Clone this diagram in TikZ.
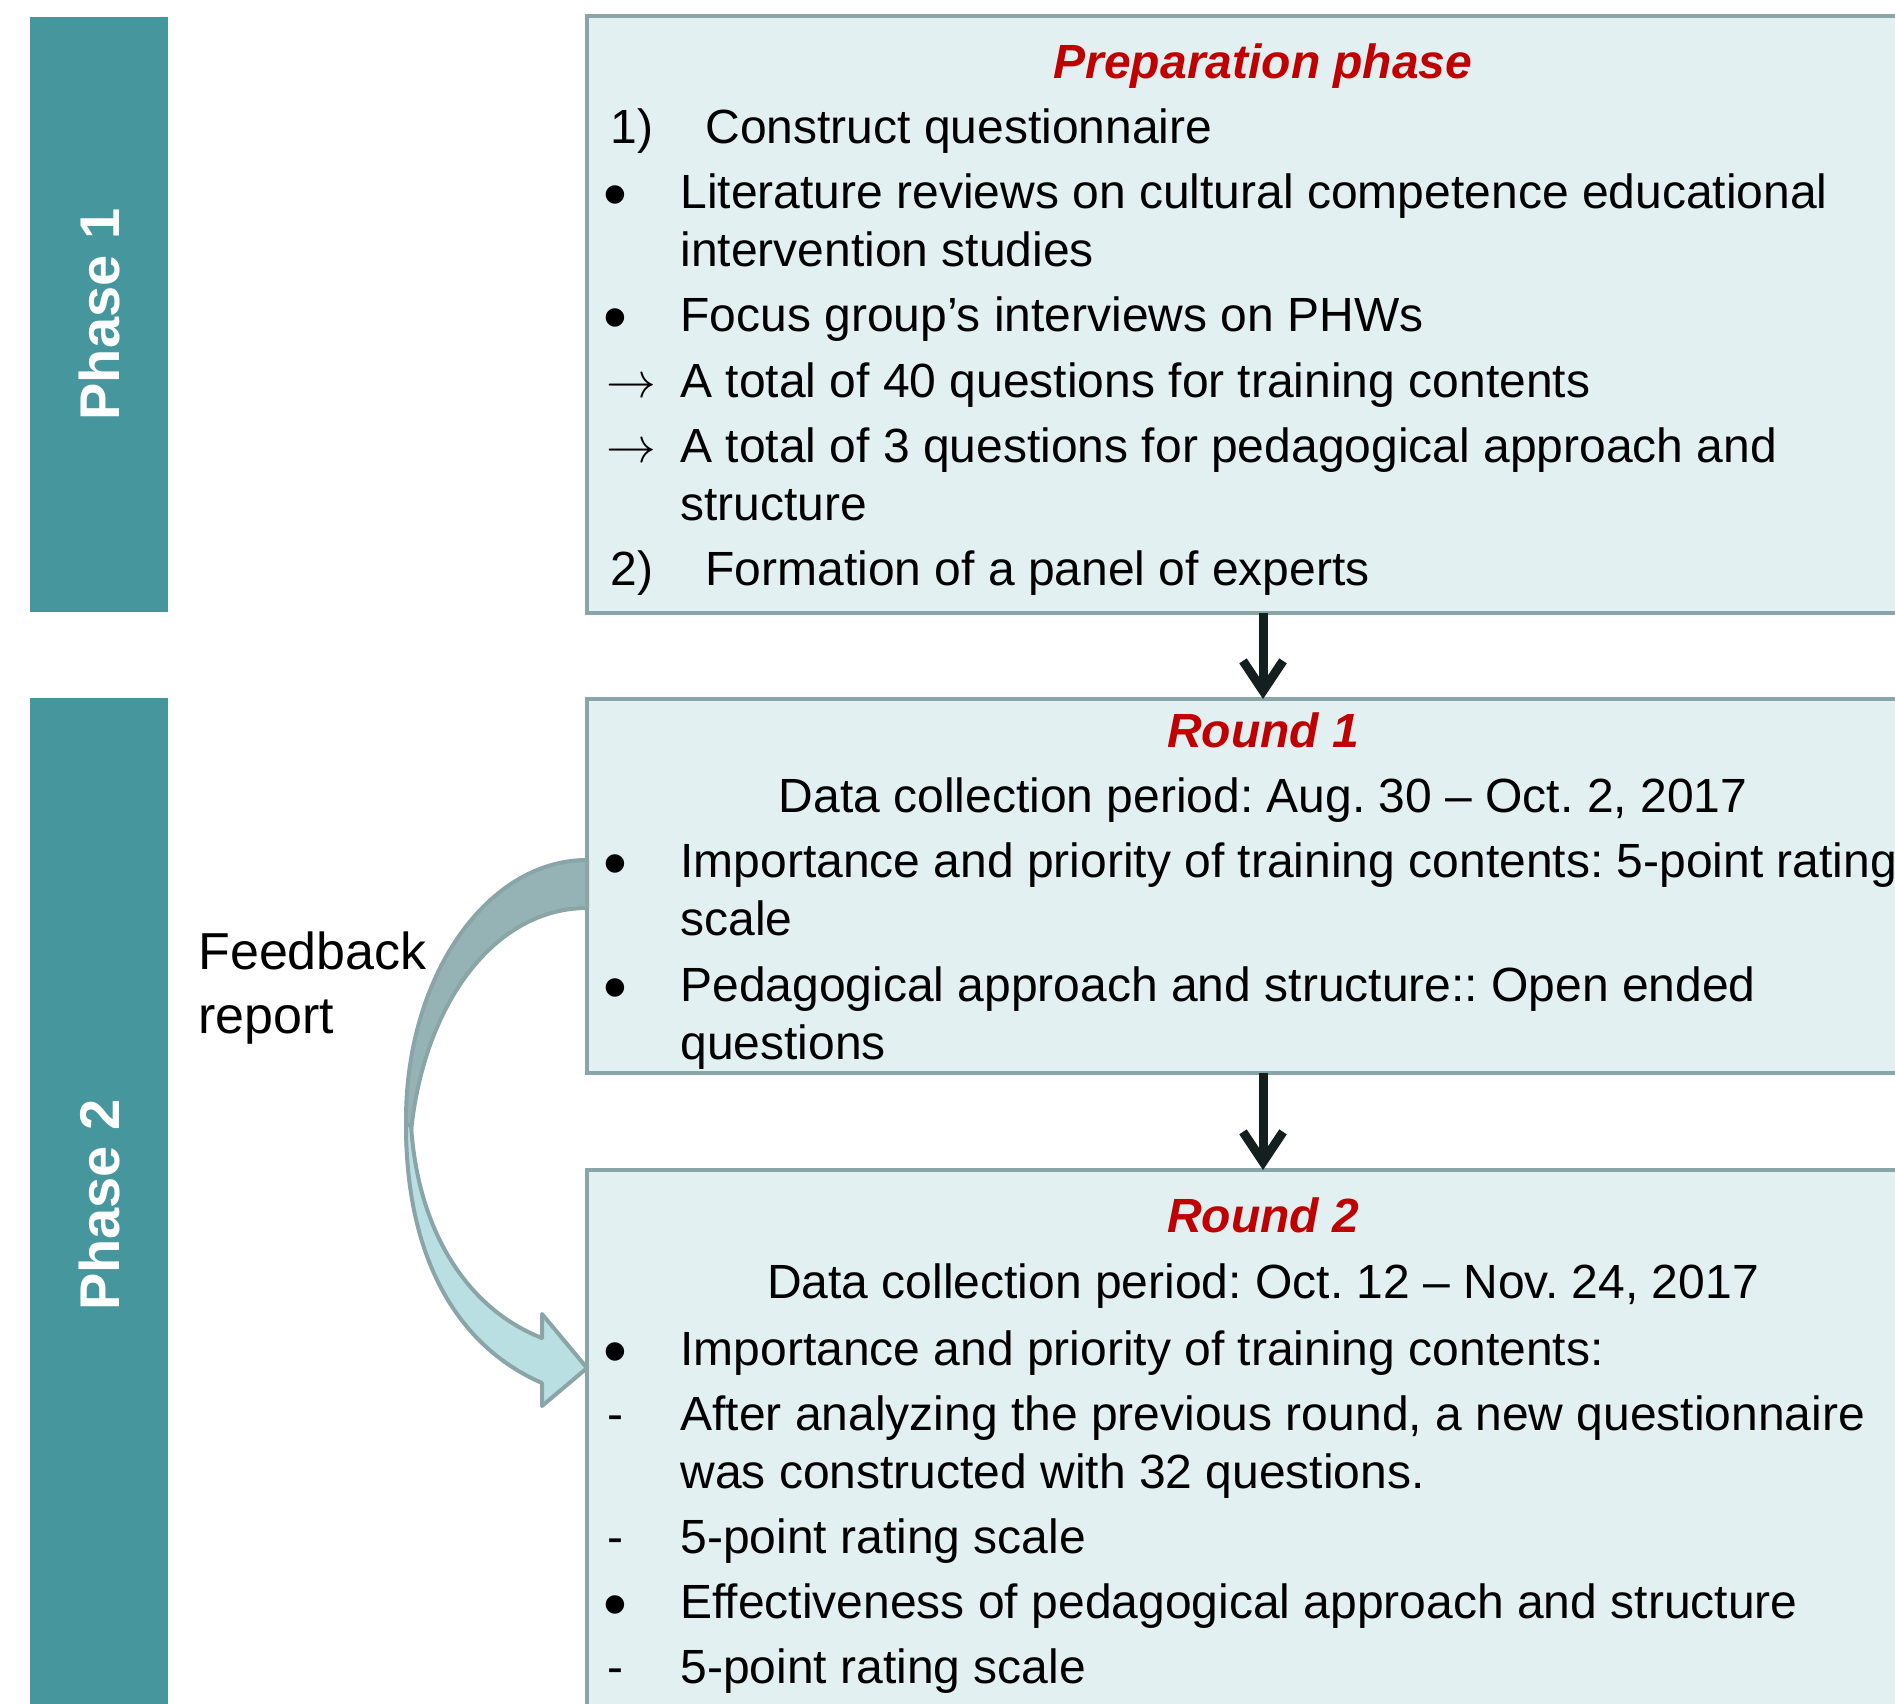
\documentclass[tikz,border=0pt]{standalone}
\usepackage{fontspec}
\setmainfont{Liberation Sans}
\usetikzlibrary{arrows.meta}
\definecolor{phaseteal}{RGB}{69,150,157}
\definecolor{boxfill}{RGB}{226,240,241}
\definecolor{boxedge}{RGB}{138,165,168}
\definecolor{titlered}{RGB}{192,0,0}
\definecolor{arrowdark}{RGB}{20,32,32}
\definecolor{fbback}{RGB}{149,179,181}
\definecolor{fbfront}{RGB}{185,223,226}
\frenchspacing
\begin{document}
\begin{tikzpicture}[x=0.5pt,y=-0.5pt,
  box/.style={draw=boxedge, fill=boxfill, line width=2pt, minimum width=676pt,
    inner sep=0pt, outer sep=0pt},
  phasebar/.style={fill=phaseteal, text=white, rotate=90, minimum height=69pt,
    inner sep=0pt, font=\fontsize{28}{34}\selectfont\bfseries},
  boxtitle/.style={anchor=base, inner sep=0pt, text=titlered,
    font=\fontsize{24}{29}\selectfont\bfseries\itshape},
  centred/.style={anchor=base, inner sep=0pt, font=\fontsize{24}{29}\selectfont},
  txt/.style={anchor=base west, inner sep=0pt, font=\fontsize{24}{29}\selectfont},
  lmark/.style={anchor=base, inner sep=0pt, font=\fontsize{24}{29}\selectfont},
  bullet/.style={anchor=north, inner sep=0pt, font=\fontsize{34}{34}\selectfont},
  feedback/.style={anchor=base west, inner sep=0pt, font=\fontsize{26}{32}\selectfont},
  flowarrow/.style={draw=arrowdark, line width=4.5pt,
    -{Straight Barb[length=15pt,width=20pt]}},
  fbedge/.style={draw=boxedge, line width=2pt, line join=round}
]
\useasboundingbox (0,0) rectangle (1895,1703);
\clip (0,0) rectangle (1895,1703);

% phase bars
\node[phasebar, minimum width=297.5pt] (ph1) at (99,314.5) {Phase 1};
\node[phasebar, minimum width=507pt] (ph2) at (99,1205) {Phase 2};

% boxes
\node[box, minimum height=298.5pt] (prep) at (1263,314.5) {};
\node[box, minimum height=187pt] (r1) at (1263,886) {};
\node[box, minimum height=271pt] (r2) at (1263,1441) {};

% flow between boxes
\draw[flowarrow] (prep.south) -- (r1.north);
\draw[flowarrow] (r1.south) -- (r2.north);

% feedback loop arrow: back part
\draw[fbedge, fill=fbback]
  (587,860) .. controls (487,860) and (406,976) .. (406,1120)
  .. controls (406,1140) and (407,1155) .. (409,1165)
  .. controls (412,1020) and (487,908) .. (587,908) -- cycle;
% feedback loop arrow: front part with head
\draw[fbedge, fill=fbfront]
  (406,1125) .. controls (406,1255) and (455,1345) .. (542,1383)
  -- (542,1406) -- (587,1368) -- (542,1314) -- (542,1338)
  .. controls (470,1310) and (418,1235) .. (411,1125) -- cycle;

\node[feedback] (fb1) at (198,969) {Feedback};
\node[feedback] (fb2) at (198,1033) {report};

% preparation phase
\node[boxtitle] (pt) at (1263,78) {Preparation phase};
\node[txt] (p1m) at (610,143) {1)};
\node[txt] (p1) at (705,143) {Construct questionnaire};
\node[bullet] (p2m) at (615,185.5) {•};
\node[txt] (p2) at (680,208) {Literature reviews on cultural competence educational};
\node[txt] (p2b) at (680,266) {intervention studies};
\node[bullet] (p3m) at (615,308.5) {•};
\node[txt] (p3) at (680,331) {Focus group’s interviews on PHWs};
\node[txt] (p4m) at (606,397) {$\rightarrow$};
\node[txt] (p4) at (680,397) {A total of 40 questions for training contents};
\node[txt] (p5m) at (606,462) {$\rightarrow$};
\node[txt] (p5) at (680,462) {A total of 3 questions for pedagogical approach and};
\node[txt] (p5b) at (680,520) {structure};
\node[txt] (p6m) at (610,585) {2)};
\node[txt] (p6) at (705,585) {Formation of a panel of experts};

% round 1
\node[boxtitle] (at) at (1263,747) {Round 1};
\node[centred] (a0) at (1263,812) {Data collection period: Aug. 30 – Oct. 2, 2017};
\node[bullet] (a1m) at (615,854.5) {•};
\node[txt] (a1) at (680,877) {Importance and priority of training contents: 5-point rating};
\node[txt] (a1b) at (680,935) {scale};
\node[bullet] (a2m) at (615,978.5) {•};
\node[txt] (a2) at (680,1001) {Pedagogical approach and structure:: Open ended};
\node[txt] (a2b) at (680,1059) {questions};

% round 2
\node[boxtitle] (bt) at (1263,1232) {Round 2};
\node[centred] (b0) at (1263,1298) {Data collection period: Oct. 12 – Nov. 24, 2017};
\node[bullet] (b1m) at (615,1342.5) {•};
\node[txt] (b1) at (680,1365) {Importance and priority of training contents:};
\node[lmark] (b2m) at (615,1430) {-};
\node[txt] (b2) at (680,1430) {After analyzing the previous round, a new questionnaire};
\node[txt] (b2b) at (680,1488) {was constructed with 32 questions.};
\node[lmark] (b3m) at (615,1553) {-};
\node[txt] (b3) at (680,1553) {5-point rating scale};
\node[bullet] (b4m) at (615,1595.5) {•};
\node[txt] (b4) at (680,1618) {Effectiveness of pedagogical approach and structure};
\node[lmark] (b5m) at (615,1683) {-};
\node[txt] (b5) at (680,1683) {5-point rating scale};
\end{tikzpicture}
\end{document}
